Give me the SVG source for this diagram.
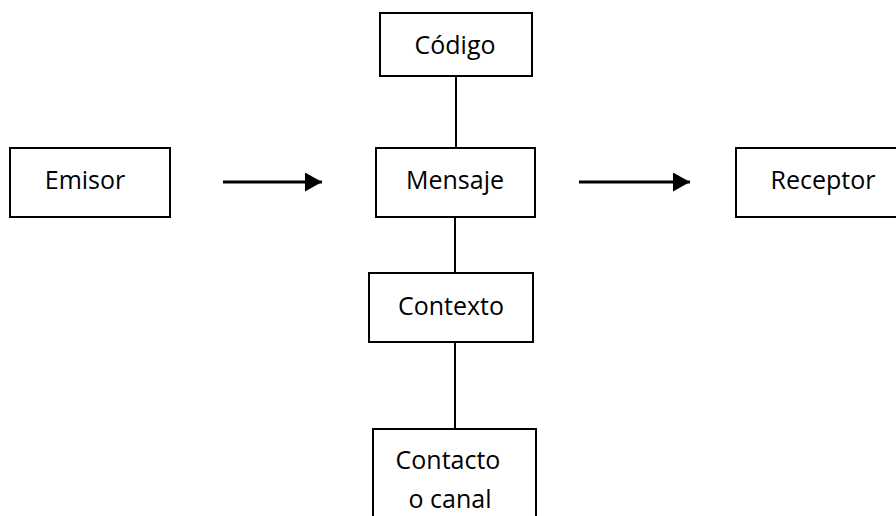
<svg xmlns="http://www.w3.org/2000/svg" width="896" height="516" viewBox="0 0 896 516">
<defs>
<style>
.box{fill:#fff;stroke:#000;stroke-width:2}
.lbl{font-family:"Open Sans","Noto Sans",sans-serif;font-size:25px;fill:#000;text-anchor:middle}
.ln{stroke:#000;stroke-width:2;fill:none}
.ar{stroke:#000;stroke-width:3;fill:none}
</style>
<marker id="ah" markerUnits="userSpaceOnUse" markerWidth="18" markerHeight="20" refX="17" refY="9.5" orient="auto">
<polygon points="0,0 17,9.5 0,19" fill="#000"/>
</marker>
</defs>
<rect width="896" height="516" fill="#fff"/>
<g id="connectors">
<line class="ln" x1="456" y1="76" x2="456" y2="148"/>
<line class="ln" x1="455" y1="217" x2="455" y2="273"/>
<line class="ln" x1="455" y1="342" x2="455" y2="429"/>
<line class="ar" x1="223" y1="182" x2="322" y2="182" marker-end="url(#ah)"/>
<line class="ar" x1="579" y1="182" x2="690" y2="182" marker-end="url(#ah)"/>
</g>
<g id="emisor">
<rect class="box" x="10" y="148" width="160" height="69"/>
<text class="lbl" x="85" y="189">Emisor</text>
</g>
<g id="codigo">
<rect class="box" x="380" y="13" width="152" height="63"/>
<text class="lbl" x="455" y="54">Código</text>
</g>
<g id="mensaje">
<rect class="box" x="376" y="148" width="159" height="69"/>
<text class="lbl" x="455" y="189">Mensaje</text>
</g>
<g id="receptor">
<rect class="box" x="736" y="148" width="170" height="69"/>
<text class="lbl" x="823" y="189">Receptor</text>
</g>
<g id="contexto">
<rect class="box" x="369" y="273" width="164" height="69"/>
<text class="lbl" x="451" y="315">Contexto</text>
</g>
<g id="contacto">
<rect class="box" x="373" y="429" width="163" height="100"/>
<text class="lbl" x="448" y="469">Contacto</text>
<text class="lbl" x="450" y="508">o canal</text>
</g>
</svg>
